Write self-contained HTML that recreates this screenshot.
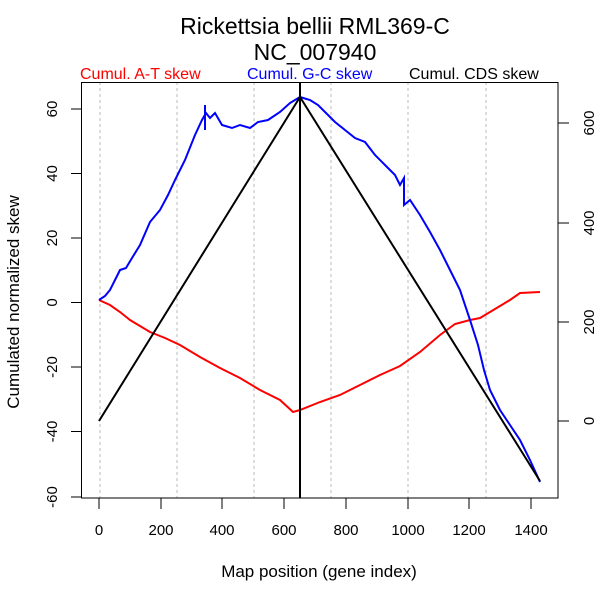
<!DOCTYPE html>
<html><head><style>body{margin:0;background:#fff}</style></head><body>
<svg width="600" height="600" xmlns="http://www.w3.org/2000/svg" font-family="Liberation Sans, sans-serif">
<rect width="600" height="600" fill="#fff"/>
<text x="315" y="34" font-size="23" text-anchor="middle">Rickettsia bellii RML369-C</text>
<text x="315" y="60" font-size="23" text-anchor="middle">NC_007940</text>
<text x="80" y="79" font-size="16" fill="#f00">Cumul. A-T skew</text>
<text x="247" y="79" font-size="16" fill="#00f">Cumul. G-C skew</text>
<text x="409" y="79" font-size="16">Cumul. CDS skew</text>
<g stroke="#bbb" stroke-dasharray="3,3" stroke-width="1">
<line x1="100" y1="82" x2="100" y2="498"/><line x1="177" y1="82" x2="177" y2="498"/><line x1="254" y1="82" x2="254" y2="498"/><line x1="331" y1="82" x2="331" y2="498"/><line x1="408" y1="82" x2="408" y2="498"/><line x1="486" y1="82" x2="486" y2="498"/>
</g>
<rect x="81.5" y="82.5" width="476.5" height="415.5" fill="none" stroke="#000"/>
<g stroke="#000" fill="none">
<line x1="99" y1="498" x2="99" y2="509"/><line x1="161" y1="498" x2="161" y2="509"/><line x1="222" y1="498" x2="222" y2="509"/><line x1="284" y1="498" x2="284" y2="509"/><line x1="346" y1="498" x2="346" y2="509"/><line x1="408" y1="498" x2="408" y2="509"/><line x1="469" y1="498" x2="469" y2="509"/><line x1="531" y1="498" x2="531" y2="509"/>
<line x1="81" y1="109" x2="71" y2="109"/><line x1="81" y1="173.5" x2="71" y2="173.5"/><line x1="81" y1="238" x2="71" y2="238"/><line x1="81" y1="302.5" x2="71" y2="302.5"/><line x1="81" y1="367" x2="71" y2="367"/><line x1="81" y1="431.5" x2="71" y2="431.5"/><line x1="81" y1="497" x2="71" y2="497"/>
<line x1="558" y1="123" x2="569" y2="123"/><line x1="558" y1="223" x2="569" y2="223"/><line x1="558" y1="322" x2="569" y2="322"/><line x1="558" y1="421" x2="569" y2="421"/>
</g>
<g font-size="15" text-anchor="middle">
<text x="99" y="535">0</text><text x="161" y="535">200</text><text x="222" y="535">400</text><text x="284" y="535">600</text><text x="346" y="535">800</text><text x="408" y="535">1000</text><text x="469" y="535">1200</text><text x="531" y="535">1400</text>
<text transform="translate(57,109) rotate(-90)">60</text><text transform="translate(57,173.5) rotate(-90)">40</text><text transform="translate(57,238) rotate(-90)">20</text><text transform="translate(57,302.5) rotate(-90)">0</text><text transform="translate(57,367) rotate(-90)">-20</text><text transform="translate(57,431.5) rotate(-90)">-40</text><text transform="translate(57,497) rotate(-90)">-60</text>
<text transform="translate(594,123) rotate(-90)">600</text><text transform="translate(594,223) rotate(-90)">400</text><text transform="translate(594,322) rotate(-90)">200</text><text transform="translate(594,421) rotate(-90)">0</text>
</g>
<text x="319" y="577" font-size="17" text-anchor="middle">Map position (gene index)</text>
<text transform="translate(19,302) rotate(-90)" font-size="17" text-anchor="middle">Cumulated normalized skew</text>
<polyline fill="none" stroke="#f00" stroke-width="2" points="99,300 110,305 120,312 130,320 150,332 165,338 180,345 200,357 220,368 240,378 260,390 280,400 293,412 300,410 320,402 340,395 360,385 380,375 400,366 420,352 440,335 455,324 470,320 480,318 500,306 510,300 520,293 540,292"/>
<polyline fill="none" stroke="#00f" stroke-width="2" points="99,300 105,296 110,290 115,280 120,270 126,268 132,258 140,245 150,222 160,210 168,195 175,180 185,160 195,135 202,120 206,113 210,118 215,113 222,125 232,128 240,125 250,128 258,122 268,120 280,112 290,103 300,97 310,100 318,105 325,112 335,122 345,130 355,138 365,142 375,155 385,165 395,175 400,185 404,178 404,205 410,200 420,215 430,232 440,250 450,270 460,290 470,320 478,345 484,370 490,390 500,410 510,425 520,440 530,460 540,482"/>
<line x1="205" y1="105" x2="205" y2="130" stroke="#00f" stroke-width="2"/>
<polyline fill="none" stroke="#000" stroke-width="2" points="99,421 300,97 540,481"/>
<line x1="300" y1="82" x2="300" y2="498" stroke="#000" stroke-width="2"/>
</svg>
</body></html>
